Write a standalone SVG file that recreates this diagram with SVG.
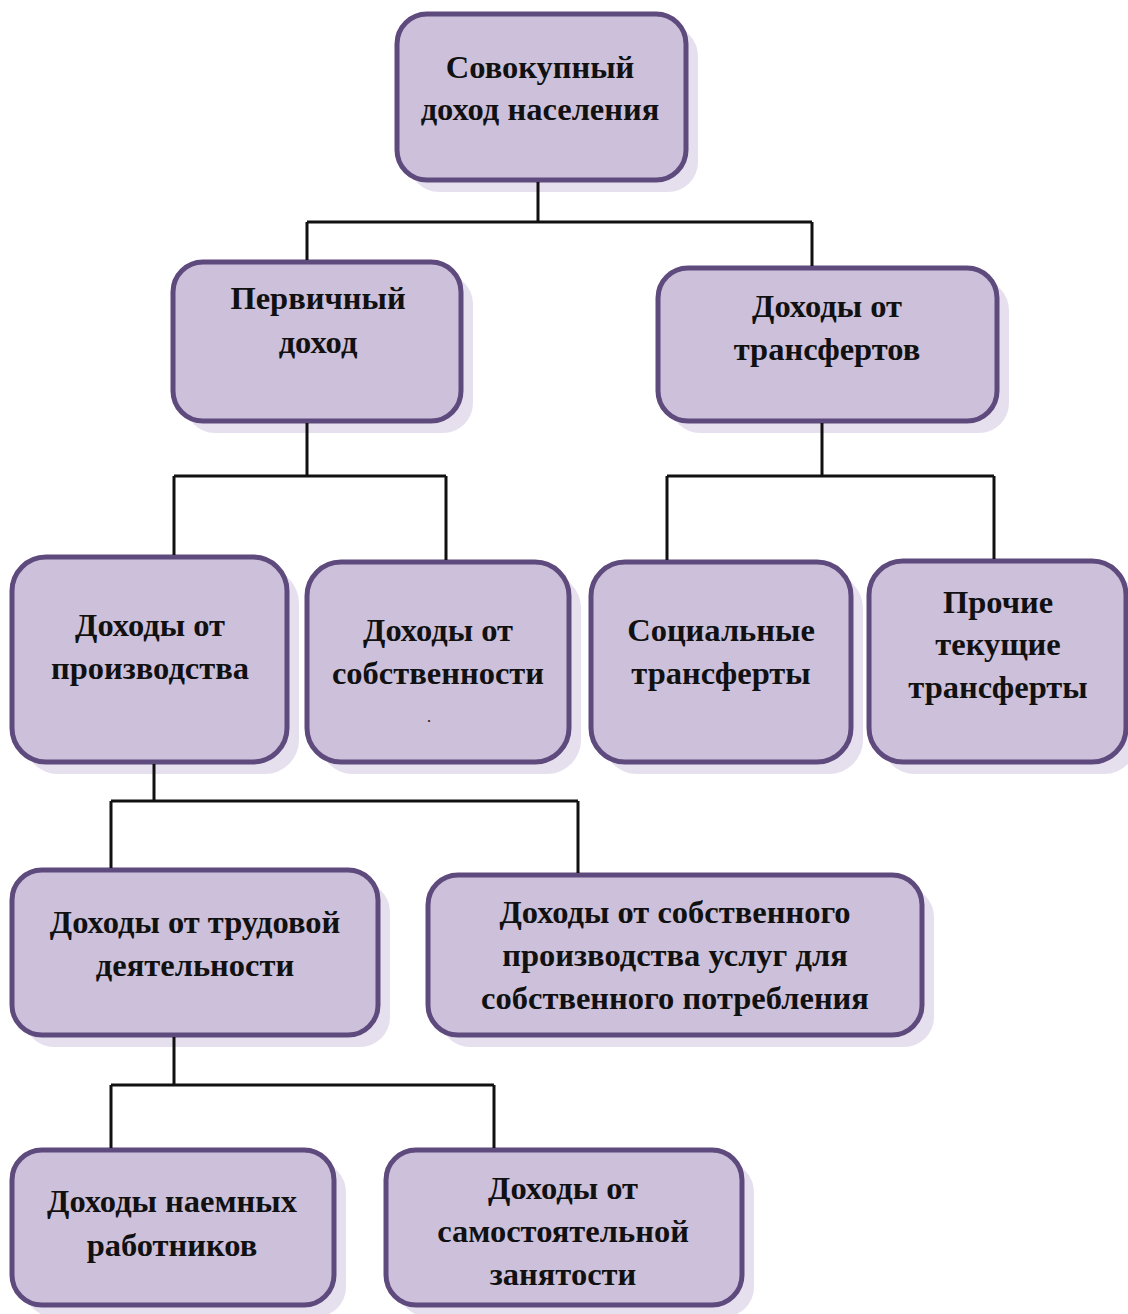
<svg xmlns="http://www.w3.org/2000/svg" width="1128" height="1314" viewBox="0 0 1128 1314">
<style>
.sh{fill:#e6e0ee;stroke:none}
.bx{fill:#ccc0da;stroke:#5f4a7e;stroke-width:5}
.t{font-family:"Liberation Serif","Times New Roman",serif;font-weight:bold;font-size:32.5px;fill:#111;text-anchor:middle}
.c{fill:none;stroke:#111;stroke-width:3}
</style>
<rect width="1128" height="1314" fill="#fff"/>
<g id="n1"><rect class="sh" x="409" y="26" width="289" height="166" rx="30"/><rect class="bx" x="397" y="14" width="289" height="166" rx="30"/>
<text class="t" x="540" y="78">Совокупный</text><text class="t" x="540" y="120">доход населения</text></g>
<g id="n2"><rect class="sh" x="185" y="274" width="288" height="159" rx="30"/><rect class="bx" x="173" y="262" width="288" height="159" rx="30"/>
<text class="t" x="318" y="309">Первичный</text><text class="t" x="318" y="353">доход</text></g>
<g id="n3"><rect class="sh" x="670" y="280" width="339" height="153" rx="30"/><rect class="bx" x="658" y="268" width="339" height="153" rx="30"/>
<text class="t" x="827" y="317">Доходы от</text><text class="t" x="827" y="360">трансфертов</text></g>
<g id="n4"><rect class="sh" x="24" y="569" width="275" height="205" rx="34"/><rect class="bx" x="12" y="557" width="275" height="205" rx="34"/>
<text class="t" x="150" y="636">Доходы от</text><text class="t" x="150" y="679">производства</text></g>
<g id="n5"><rect class="sh" x="319" y="574" width="262" height="200" rx="34"/><rect class="bx" x="307" y="562" width="262" height="200" rx="34"/>
<text class="t" x="438" y="641">Доходы от</text><text class="t" x="438" y="684">собственности</text><text class="t" x="429" y="722" style="font-size:12px">.</text></g>
<g id="n6"><rect class="sh" x="603" y="574" width="260" height="200" rx="34"/><rect class="bx" x="591" y="562" width="260" height="200" rx="34"/>
<text class="t" x="721" y="641">Социальные</text><text class="t" x="721" y="684">трансферты</text></g>
<g id="n7"><rect class="sh" x="881" y="573" width="257" height="201" rx="34"/><rect class="bx" x="869" y="561" width="257" height="201" rx="34"/>
<text class="t" x="998" y="613">Прочие</text><text class="t" x="998" y="655">текущие</text><text class="t" x="998" y="698">трансферты</text></g>
<g id="n8"><rect class="sh" x="24" y="882" width="366" height="165" rx="30"/><rect class="bx" x="12" y="870" width="366" height="165" rx="30"/>
<text class="t" x="195" y="933">Доходы от трудовой</text><text class="t" x="195" y="976">деятельности</text></g>
<g id="n9"><rect class="sh" x="440" y="887" width="494" height="160" rx="30"/><rect class="bx" x="428" y="875" width="494" height="160" rx="30"/>
<text class="t" x="675" y="923">Доходы от собственного</text><text class="t" x="675" y="966">производства услуг для</text><text class="t" x="675" y="1009">собственного потребления</text></g>
<g id="n10"><rect class="sh" x="24" y="1162" width="322" height="155" rx="30"/><rect class="bx" x="12" y="1150" width="322" height="155" rx="30"/>
<text class="t" x="172" y="1212">Доходы наемных</text><text class="t" x="172" y="1256">работников</text></g>
<g id="n11"><rect class="sh" x="398" y="1162" width="356" height="155" rx="30"/><rect class="bx" x="386" y="1150" width="356" height="155" rx="30"/>
<text class="t" x="563" y="1199">Доходы от</text><text class="t" x="563" y="1242">самостоятельной</text><text class="t" x="563" y="1285">занятости</text></g>
<g id="connectors">
<path class="c" d="M538 182V222M307 222H812M307 222V260M812 222V266"/>
<path class="c" d="M307 423V476M174 476H446M174 476V555M446 476V560"/>
<path class="c" d="M822 423V476M667 476H994M667 476V560M994 476V559"/>
<path class="c" d="M154 764V801M111 801H578M111 801V868M578 801V873"/>
<path class="c" d="M174 1037V1085M111 1085H494M111 1085V1148M494 1085V1148"/>
</g>
</svg>
